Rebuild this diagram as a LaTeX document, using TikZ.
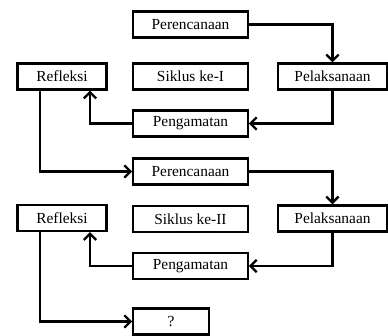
\documentclass[tikz,border=0pt]{standalone}
\usepackage{fontspec}
\setmainfont{Liberation Serif}
\usepackage{tikz}
\usetikzlibrary{calc}
\usetikzlibrary{arrows.meta}

\begin{document}
\begin{tikzpicture}[x=0.65pt,y=-0.65pt,
  box/.style={draw,line width=1.5pt,minimum height=17pt,inner sep=0pt,font=\fontsize{10}{12}\selectfont},
  wide/.style={box,minimum width=74.5pt},
  flow/.style={line width=1.5pt,-{Straight Barb[length=4pt,width=8pt]}}]
\useasboundingbox (0,0) rectangle (388,336);

% siklus pertama
\node[wide] (per1) at (190.5,24.5) {Perencanaan};
\node[wide] (sik1) at (190.5,76.5) {Siklus ke-I};
\node[box,minimum width=70.5pt] (pel1) at (332.5,76.5) {Pelaksanaan};
\node[box,minimum width=58pt] (ref1) at (62,76.5) {Refleksi};
\node[wide] (pen1) at (190.5,123.5) {Pengamatan};

% siklus kedua
\node[wide] (per2) at (190.5,171.5) {Perencanaan};
\node[wide] (sik2) at (190.5,219) {Siklus ke-II};
\node[box,minimum width=70.5pt] (pel2) at (332.5,218.5) {Pelaksanaan};
\node[box,minimum width=58pt] (ref2) at (62,218) {Refleksi};
\node[wide] (pen2) at (190.5,266) {Pengamatan};

\node[box,minimum width=49pt] (lanjut) at (171,321.5) {?};

\draw[flow] (per1.east) -| (pel1.north);
\draw[flow] (pel1.south) |- (pen1.east);
\draw[flow] (pen1.west) -| ($(ref1.south)+(28,0)$);
\draw[flow] ($(ref1.south)+(-22,0)$) |- (per2.west);

\draw[flow] (per2.east) -| (pel2.north);
\draw[flow] (pel2.south) |- (pen2.east);
\draw[flow] (pen2.west) -| ($(ref2.south)+(28,0)$);
\draw[flow] ($(ref2.south)+(-22,0)$) |- (lanjut.west);
\end{tikzpicture}
\end{document}
